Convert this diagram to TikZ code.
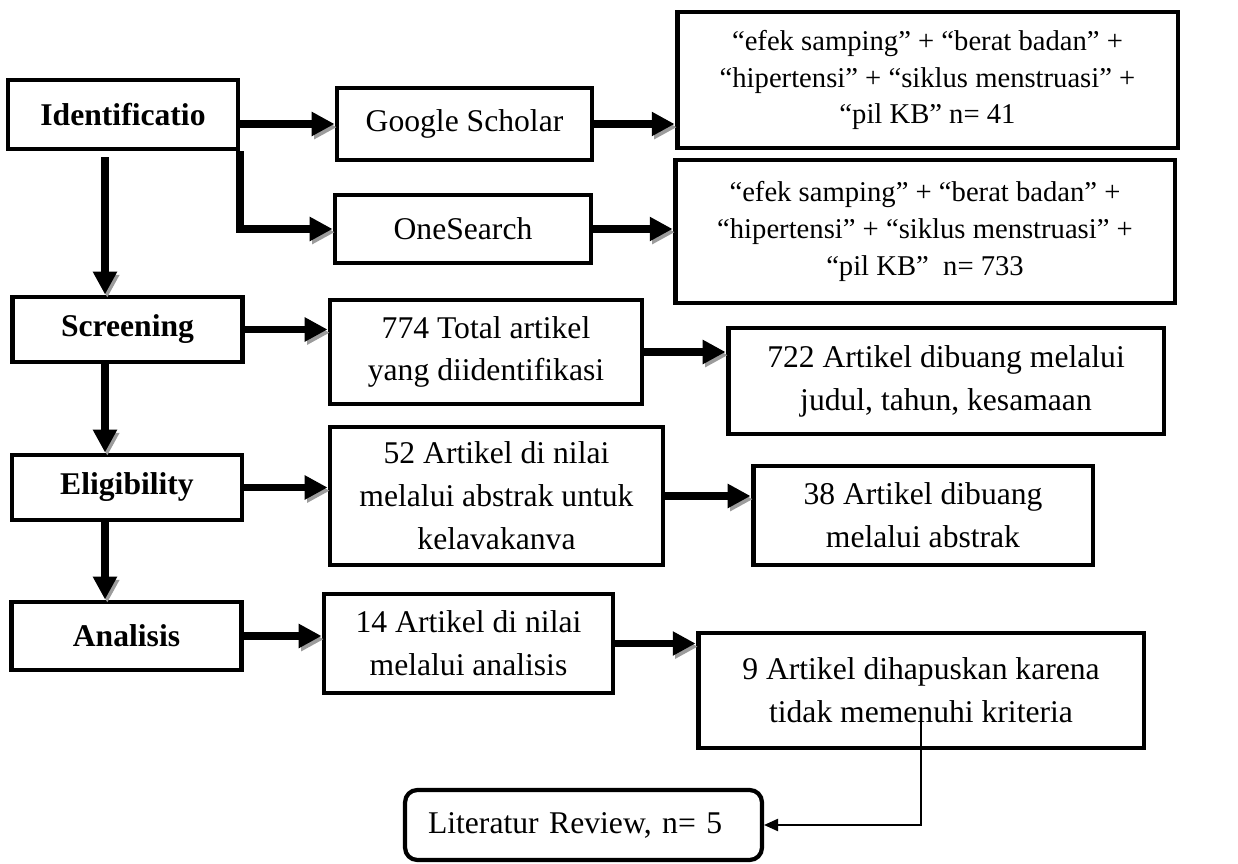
\documentclass[tikz,border=0pt]{standalone}
\usepackage{fontspec}
\setmainfont{Liberation Serif}
\usepackage{tikz}
\usetikzlibrary{arrows.meta,positioning,calc}
\definecolor{ink}{HTML}{000000}
\definecolor{shade}{HTML}{9C9C9C}
\tikzset{
  stagebox/.style={
    rectangle, draw=ink, line width=2.8pt,
    minimum width=4.6cm, minimum height=1.34cm,
    font=\fontsize{18}{24.4}\selectfont\bfseries, align=center,
    inner sep=2pt
  },
  stepbox/.style={
    rectangle, draw=ink, line width=2.8pt,
    font=\fontsize{18}{24.4}\selectfont, align=center,
    inner sep=2pt
  },
  querybox/.style={
    rectangle, draw=ink, line width=2.8pt,
    font=\fontsize{16.3}{20.8}\selectfont, align=center,
    inner sep=2pt
  },
  resultbox/.style={
    rectangle, rounded corners=7pt, draw=ink, line width=2.4pt,
    font=\fontsize{18}{24.4}\selectfont, align=left,
    inner ysep=2pt
  },
  % ── connectors ──
  flowarrow/.style={
    -{Triangle[length=13pt,width=13pt]}, line width=4.5pt, color=ink,
    preaction={draw=shade, transform canvas={shift={(1.3pt,-1.8pt)}}}
  },
  linkarrow/.style={
    -{Triangle[length=8pt,width=7pt]}, line width=0.9pt, color=ink
  },
}

\begin{document}
\begin{tikzpicture}[x=0.02cm, y=-0.02cm]
  \useasboundingbox (0,0) rectangle (1238,864);

  % stages
  \node[stagebox, minimum height=1.38cm] (ident) at (123,114.5) {Identificatio};
  \node[stagebox, minimum height=1.3cm] (screen) at (127.5,329.5) {Screening};
  \node[stagebox, minimum height=1.3cm] (elig) at (127,487.5) {Eligibility};
  \node[stagebox, minimum height=1.36cm] (anal) at (126.5,636) {Analisis};
  \coordinate (spine) at (105,0);

  % identification
  \node[stepbox, minimum width=5.1cm, minimum height=1.44cm] (gs) at (464.5,124) {Google Scholar};
  \node[stepbox, minimum width=5.12cm, minimum height=1.36cm] (ones) at (463,229) {OneSearch};
  \node[querybox, minimum width=10.02cm, minimum height=2.72cm] (kw1) at (927.5,80)
    {“efek samping” + “berat badan” +\\
     “hipertensi” + “siklus menstruasi” +\\
     “pil KB” n= 41};
  \node[querybox, minimum width=10cm, minimum height=2.86cm] (kw2) at (925,231.5)
    {“efek samping” + “berat badan” +\\
     “hipertensi” + “siklus menstruasi” +\\
     “pil KB”\ \ n= 733};

  % screening, eligibility, analysis
  \node[stepbox, minimum width=6.24cm, minimum height=2.08cm] (a774) at (486,352)
    {774 Total artikel\\ yang diidentifikasi};
  \node[stepbox, minimum width=8.72cm, minimum height=2.12cm] (a722) at (946,381)
    {722 Artikel dibuang melalui\\ judul, tahun, kesamaan};
  \node[stepbox, minimum width=6.66cm, minimum height=2.76cm] (a52) at (496.5,496)
    {52 Artikel di nilai\\ melalui abstrak untuk\\ kelavakanva};
  \node[stepbox, minimum width=6.8cm, minimum height=1.98cm] (a38) at (923,515.5)
    {38 Artikel dibuang\\ melalui abstrak};
  \node[stepbox, minimum width=5.78cm, minimum height=1.98cm] (a14) at (468.5,643.5)
    {14 Artikel di nilai\\ melalui analisis};
  \node[stepbox, minimum width=8.92cm, minimum height=2.3cm] (a9) at (921,690.5)
    {9 Artikel dihapuskan karena\\ tidak memenuhi kriteria};
  \node[resultbox, text width=6.22cm, inner xsep=0.46cm, minimum height=1.4cm] (lit) at (583.5,825)
    {Literatur Review, n= 5};

  % main column
  \draw[flowarrow] ([yshift=-0.12cm]spine |- ident.south) -- (spine |- screen.north);
  \draw[flowarrow] (spine |- screen.south) -- (spine |- elig.north);
  \draw[flowarrow] (spine |- elig.south) -- (spine |- anal.north);

  % side branches
  \draw[flowarrow] (ident.east |- gs) -- (gs.west);
  \draw[flowarrow] (ident.south east) -- (ident.south east |- ones.west) -- (ones.west);
  \draw[flowarrow] (gs.east) -- (gs.east -| kw1.west);
  \draw[flowarrow] (ones.east) -- (ones.east -| kw2.west);
  \draw[flowarrow] (screen.east) -- (screen.east -| a774.west);
  \draw[flowarrow] (a774.east) -- (a774.east -| a722.west);
  \draw[flowarrow] (elig.east) -- (elig.east -| a52.west);
  \draw[flowarrow] (a52.east) -- (a52.east -| a38.west);
  \draw[flowarrow] (anal.east) -- (anal.east -| a14.west);
  \draw[flowarrow] (a14.east) -- (a14.east -| a9.west);

  \draw[linkarrow] ($(a9.center)!0.3!(a9.south)$) |- (lit.east);
\end{tikzpicture}
\end{document}
